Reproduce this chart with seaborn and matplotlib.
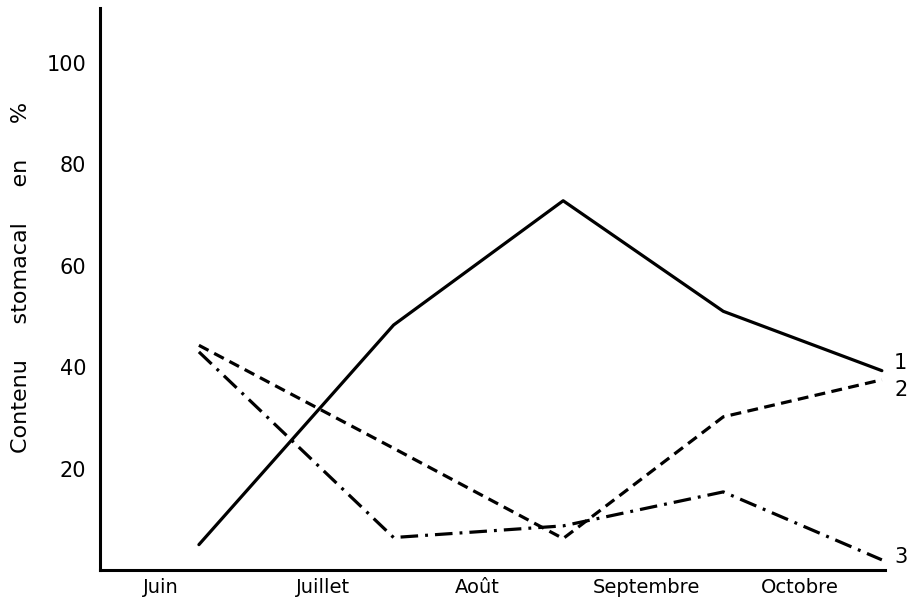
import matplotlib
matplotlib.use("Agg")
import matplotlib.pyplot as plt
import seaborn as sns
import pandas as pd

# ---- data ----
months = ["Juin", "Juillet", "Août", "Septembre", "Octobre"]
# sampling positions in month units (0 = start of Juin)
sample_pos = [0.63, 1.87, 2.95, 3.97, 4.98]
serie1 = [5, 48.3, 72.8, 51, 39.3]     # solid
serie2 = [44.3, 24, 6.2, 30.2, 37.5]   # dashed
serie3 = [43, 6.4, 8.7, 15.4, 2.0]     # dash-dot
series_labels = ["1", "2", "3"]
yticks = [20, 40, 60, 80, 100]

sns.set_theme(style="white", rc={"text.color": "black",
                                 "axes.labelcolor": "black",
                                 "xtick.color": "black",
                                 "ytick.color": "black"})
plt.rcParams['font.family'] = ['DejaVu Sans']

fig = plt.figure(figsize=(9.21, 6.04), dpi=100)
ax = fig.add_axes([100/921, 34/604, 785/921, 562/604])

lw = 2.3
styles = ["-", (0, (3.4, 2.0)), (0, (5.5, 2.2, 0.9, 2.2))]
for vals, ls in zip([serie1, serie2, serie3], styles):
    df = pd.DataFrame({"x": sample_pos, "y": vals})
    sns.lineplot(data=df, x="x", y="y", ax=ax, color="black", lw=lw,
                 linestyle=ls, sort=False, legend=False)

# end labels
ends = [(serie1[-1] + 1.5), (serie2[-1] - 2), (serie3[-1] + 0.6)]
for lab, yv in zip(series_labels, ends):
    ax.text(sample_pos[-1] + 0.12, yv, lab, fontsize=15, ha="center",
            va="center", clip_on=False, color="black")

ax.set_xlim(0, 5)
ax.set_ylim(0, 110.8)
ax.set_yticks(yticks)
ax.set_yticklabels([str(v) for v in yticks], fontsize=15)
ax.set_xticks([1, 2, 3, 4, 5])
ax.set_xticklabels([])
ax.set_xticks([0.39, 1.42, 2.40, 3.48, 4.46], minor=True)
ax.set_xticklabels(months, minor=True, fontsize=14)
ax.tick_params(axis="x", which="minor", length=0, pad=6)
ax.tick_params(axis="x", which="major", length=8, width=2, direction="out",
               color="black")
ax.tick_params(axis="y", length=8, width=2, direction="out", color="black",
               pad=2)
ax.set_xlabel("")
ax.set_ylabel("Contenu     stomacal     en     %", fontsize=16)
ax.yaxis.set_label_coords(-0.088, 0.52)

sns.despine(ax=ax)
for s in ["left", "bottom"]:
    ax.spines[s].set_linewidth(2.2)
    ax.spines[s].set_color("black")

fig.savefig("out.png", dpi=100, facecolor="white")
